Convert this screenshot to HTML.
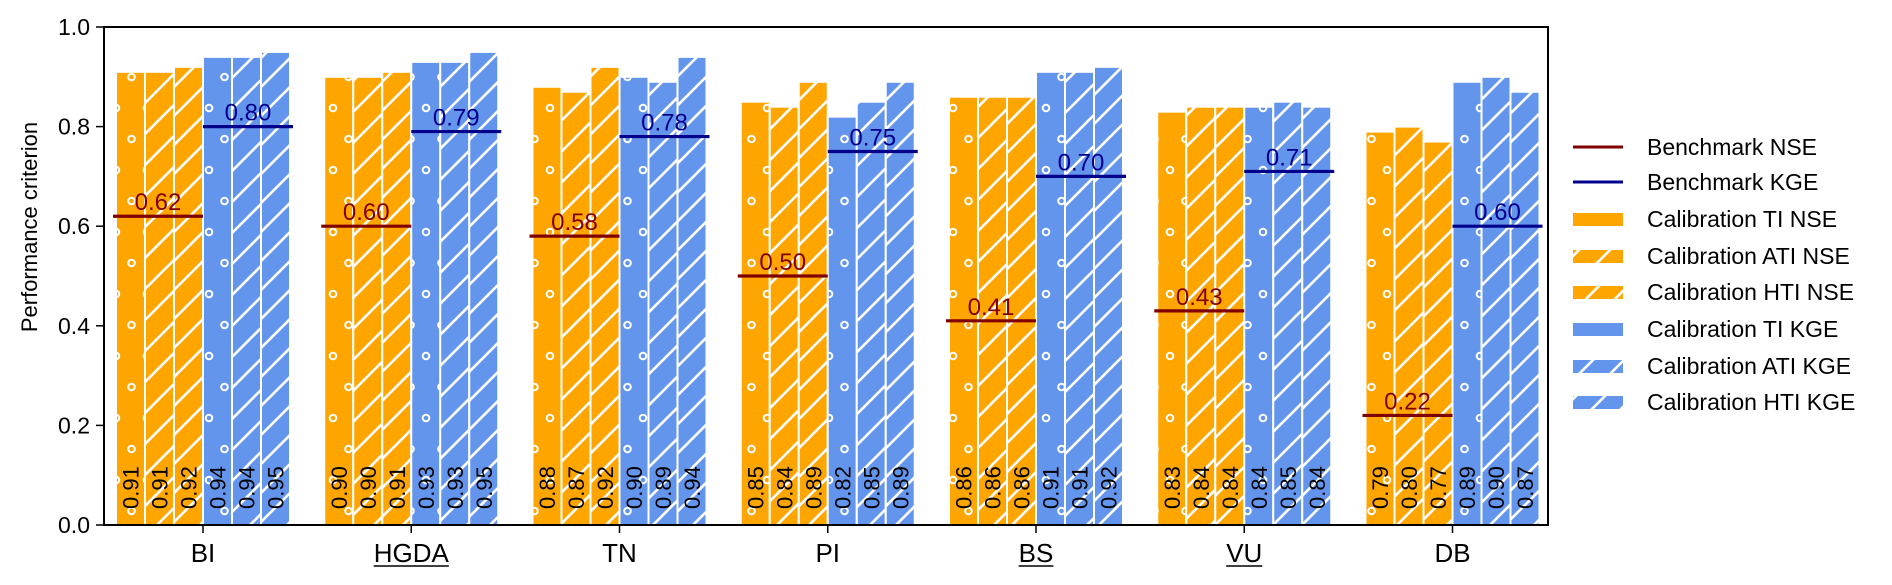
<!DOCTYPE html>
<html><head><meta charset="utf-8"><style>
body{margin:0;background:#fff}
svg{display:block}
text{font-family:"Liberation Sans","DejaVu Sans",sans-serif}
</style></head><body>
<svg id="chart" width="1892" height="585" viewBox="0 0 1892 585" xmlns="http://www.w3.org/2000/svg">
<defs>
<pattern id="dots" patternUnits="userSpaceOnUse" width="31" height="62" x="0" y="0">
<circle cx="7.5" cy="15" r="3.3" fill="none" stroke="#fff" stroke-width="2"/>
<circle cx="23" cy="46" r="3.3" fill="none" stroke="#fff" stroke-width="2"/>
</pattern>
<pattern id="hatch1" patternUnits="userSpaceOnUse" width="31" height="31">
<path d="M-5,36 L36,-5 M-5,5 L5,-5 M26,36 L36,26" stroke="#fff" stroke-width="2.6"/>
</pattern>
<pattern id="hatch2" patternUnits="userSpaceOnUse" width="29" height="29">
<path d="M-5,34 L34,-5 M-5,5 L5,-5 M24,34 L34,24" stroke="#fff" stroke-width="2.6"/>
</pattern>
</defs>
<g id="bars"></g>
<g id="bench"></g>
<g id="axes"></g>
<g id="legend"></g>
</svg>
<script>
const categories = ["BI","HGDA","TN","PI","BS","VU","DB"];
const underlined = [false,true,false,false,true,true,false];
const tiNSE  = [0.91,0.90,0.88,0.85,0.86,0.83,0.79];
const atiNSE = [0.91,0.90,0.87,0.84,0.86,0.84,0.80];
const htiNSE = [0.92,0.91,0.92,0.89,0.86,0.84,0.77];
const tiKGE  = [0.94,0.93,0.90,0.82,0.91,0.84,0.89];
const atiKGE = [0.94,0.93,0.89,0.85,0.91,0.85,0.90];
const htiKGE = [0.95,0.95,0.94,0.89,0.92,0.84,0.87];
const benchNSE = [0.62,0.60,0.58,0.50,0.41,0.43,0.22];
const benchKGE = [0.80,0.79,0.78,0.75,0.70,0.71,0.60];
const yTicks = ["0.0","0.2","0.4","0.6","0.8","1.0"];
const seriesNames = ["Calibration TI NSE","Calibration ATI NSE","Calibration HTI NSE","Calibration TI KGE","Calibration ATI KGE","Calibration HTI KGE"];

const NS="http://www.w3.org/2000/svg";
const X0=104,X1=1548,Y0=525,Y1=27;
const y=v=>Y0-(Y0-Y1)*v;
const groupCenter=i=>203+208.25*i;
const BW=29;
function mk(tag,attrs,parent,text){const e=document.createElementNS(NS,tag);for(const k in attrs)e.setAttribute(k,attrs[k]);if(text!==undefined)e.textContent=text;parent.appendChild(e);return e;}
const series=[tiNSE,atiNSE,htiNSE,tiKGE,atiKGE,htiKGE];
const colors=["#FFA500","#FFA500","#FFA500","#6495ED","#6495ED","#6495ED"];
const pats=["dots","hatch1","hatch2","dots","hatch1","hatch2"];
const gB=document.getElementById('bars');
categories.forEach((c,i)=>{
  const left=groupCenter(i)-3*BW;
  series.forEach((s,j)=>{
    const x=left+j*BW, top=y(s[i]);
    const r=mk('rect',{x:x,y:top,width:BW,height:Y0-top,fill:colors[j]},gB);
    
    
    const h=mk('rect',{x:x,y:top,width:BW,height:Y0-top,fill:'url(#'+pats[j]+')',stroke:'#fff','stroke-width':2},gB);
    
    
    const cx=x+BW/2+8, cy=509;
    const t=mk('text',{x:cx,y:cy,transform:'rotate(-90 '+cx+' '+cy+')','font-size':22,fill:'#000'},gB,s[i].toFixed(2));
    
    
  });
});
const gL=document.getElementById('bench');
categories.forEach((c,i)=>{
  const gc=groupCenter(i);
  [[benchNSE,'#800000',gc-3*BW-3,gc],[benchKGE,'#00008B',gc,gc+3*BW+3]].forEach(([arr,col,a,b],k)=>{
    const yy=y(arr[i]);
    const l=mk('line',{x1:a,x2:b,y1:yy,y2:yy,stroke:col,'stroke-width':3.2},gL);
    
    
    const t=mk('text',{x:(a+b)/2,y:yy-6,'text-anchor':'middle','font-size':24,fill:col},gL,arr[i].toFixed(2));
    
    
  });
});
const gA=document.getElementById('axes');
const fr=mk('rect',{x:X0,y:Y1,width:X1-X0,height:Y0-Y1,fill:'none',stroke:'#000','stroke-width':2},gA);


yTicks.forEach(t=>{
  const yy=y(parseFloat(t));
  const tk=mk('line',{x1:X0-8,x2:X0,y1:yy,y2:yy,stroke:'#000','stroke-width':1.5},gA);
  
  
  const tx=mk('text',{x:X0-14,y:yy+8,'text-anchor':'end','font-size':23,'font-family':'Liberation Serif, serif',fill:'#000'},gA,t);
  
  
});
categories.forEach((c,i)=>{
  const gc=groupCenter(i);
  const tk=mk('line',{x1:gc,x2:gc,y1:Y0,y2:Y0+8,stroke:'#000','stroke-width':1.5},gA);
  
  
  const tx=mk('text',{x:gc,y:562,'text-anchor':'middle','font-size':26,fill:'#000'},gA,c);
  
  
  if(underlined[i]){const w=tx.getComputedTextLength();const u=mk('line',{x1:gc-w/2,x2:gc+w/2,y1:566,y2:566,stroke:'#000','stroke-width':1.5},gA);}
});
const yt=mk('text',{x:37,y:227,transform:'rotate(-90 37 227)','text-anchor':'middle','font-size':22,fill:'#000'},gA,'Performance criterion');


const gG=document.getElementById('legend');
const ly=[147,182,219,256,292,329,366,402];
['Benchmark NSE','Benchmark KGE'].forEach((n,k)=>{
  const l=mk('line',{x1:1573,x2:1623,y1:ly[k],y2:ly[k],stroke:k?'#00008B':'#800000','stroke-width':3},gG);
  
  
  const t=mk('text',{x:1647,y:ly[k]+8,'font-size':23,fill:'#000'},gG,n);
  
  
});
seriesNames.forEach((n,j)=>{
  const yy=ly[j+2];
  const r=mk('rect',{x:1573,y:yy-6,width:50,height:13,fill:colors[j]},gG);
  
  
  if(j!==3){const h=mk('rect',{x:1573,y:yy-6,width:50,height:13,fill:'url(#'+pats[j]+')'},gG);}
  const t=mk('text',{x:1647,y:yy+8,'font-size':23,fill:'#000'},gG,n);
  
  
});
</script>
</body></html>
